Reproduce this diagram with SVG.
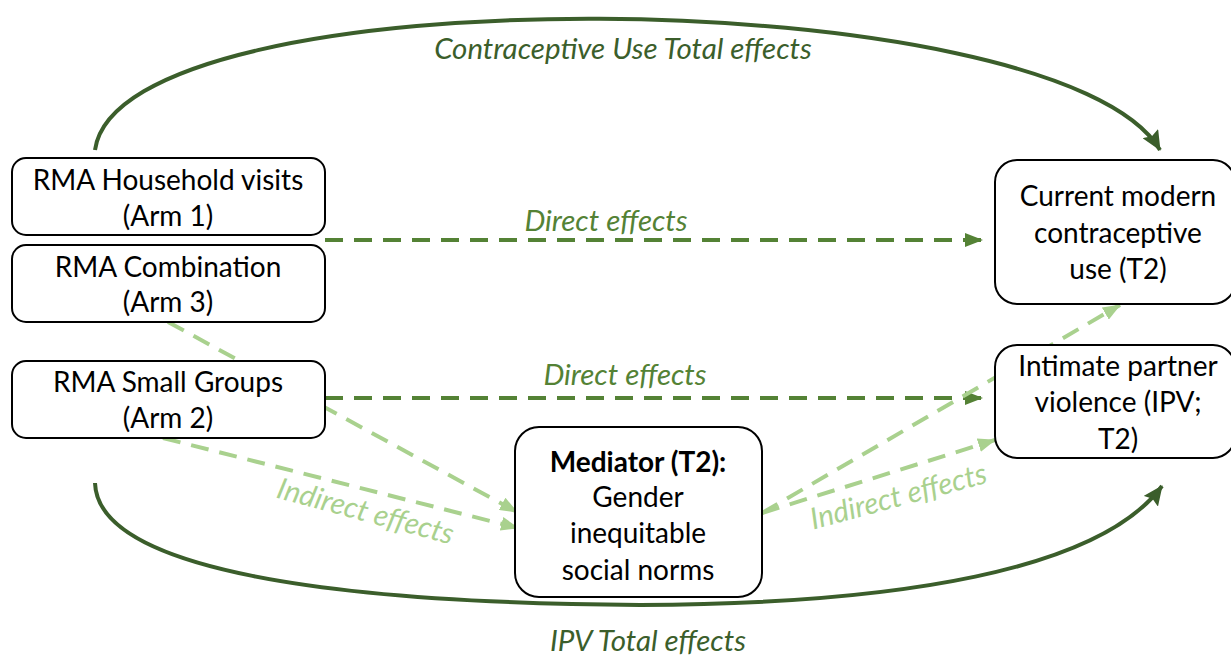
<svg xmlns="http://www.w3.org/2000/svg" width="1231" height="658" viewBox="0 0 1231 658">
<style>
.box{fill:#fff;stroke:#000;stroke-width:2}
.t{font-family:Lato,"Open Sans","Liberation Sans",sans-serif;font-size:28px;fill:#000;text-anchor:middle}
.b{font-weight:bold}
.lbl{font-family:Lato,"Open Sans","Liberation Sans",sans-serif;font-size:29.5px;font-style:italic;text-anchor:middle}
.total{fill:none;stroke:#3B5E2B;stroke-width:4}
.direct{fill:none;stroke:#548235;stroke-width:4;stroke-dasharray:18 11}
.ind{fill:none;stroke:#A9D18E;stroke-width:4;stroke-dasharray:18 11}
</style>
<defs>
<marker id="aTot" markerUnits="userSpaceOnUse" markerWidth="20" markerHeight="18" refX="19" refY="9" orient="auto"><path d="M0,0 L20,9 L0,18 L3,9 z" fill="#3B5E2B"/></marker>
<marker id="aDir" markerUnits="userSpaceOnUse" markerWidth="18" markerHeight="14" refX="17" refY="7" orient="auto"><path d="M0,0 L18,7 L0,14 z" fill="#548235"/></marker>
<marker id="aInd" markerUnits="userSpaceOnUse" markerWidth="18" markerHeight="14" refX="17" refY="7" orient="auto"><path d="M0,0 L18,7 L0,14 z" fill="#A9D18E"/></marker>
</defs>
<g id="connectors">
<path class="total" d="M95,150 C120,-30 1060,-20 1160,150" marker-end="url(#aTot)"/>
<path class="total" d="M95,483 C98,570 330,603 640,605 C900,604 1100,570 1162,486" marker-end="url(#aTot)"/>
<line class="direct" x1="325" y1="240" x2="982" y2="240" marker-end="url(#aDir)"/>
<line class="direct" x1="325" y1="398" x2="982" y2="398" marker-end="url(#aDir)"/>
<line class="ind" x1="168" y1="322" x2="517" y2="512" marker-end="url(#aInd)"/>
<line class="ind" x1="163" y1="438" x2="518" y2="528" marker-end="url(#aInd)"/>
<line class="ind" x1="762" y1="513" x2="1120" y2="305" marker-end="url(#aInd)"/>
<line class="ind" x1="762" y1="513" x2="995" y2="440" marker-end="url(#aInd)"/>
<text class="lbl" x="623" y="59" fill="#3B5E2B">Contraceptive Use Total effects</text>
<text class="lbl" x="606" y="231" fill="#548235">Direct effects</text>
<text class="lbl" x="625" y="385" fill="#548235">Direct effects</text>
<text class="lbl" fill="#A9D18E" transform="translate(363,521) rotate(15)">Indirect effects</text>
<text class="lbl" fill="#A9D18E" transform="translate(901,506) rotate(-15)">Indirect effects</text>
<text class="lbl" x="648" y="651" fill="#3B5E2B">IPV Total effects</text>
</g>
<g id="arm1"><rect class="box" x="12" y="158" width="313" height="77" rx="14"/><text class="t" x="168" y="190">RMA Household visits</text><text class="t" x="168" y="226">(Arm 1)</text></g>
<g id="arm3"><rect class="box" x="12" y="245" width="313" height="77" rx="14"/><text class="t" x="168" y="277">RMA Combination</text><text class="t" x="168" y="312">(Arm 3)</text></g>
<g id="arm2"><rect class="box" x="12" y="361" width="313" height="77" rx="14"/><text class="t" x="168" y="392">RMA Small Groups</text><text class="t" x="168" y="428">(Arm 2)</text></g>
<g id="contraceptive"><rect class="box" x="995" y="160" width="240" height="144" rx="22"/><text class="t" x="1118" y="206">Current modern</text><text class="t" x="1118" y="243">contraceptive</text><text class="t" x="1118" y="279">use (T2)</text></g>
<g id="ipv"><rect class="box" x="995" y="345" width="240" height="113" rx="22"/><text class="t" x="1118" y="376">Intimate partner</text><text class="t" x="1118" y="412">violence (IPV;</text><text class="t" x="1118" y="449">T2)</text></g>
<g id="mediator"><rect class="box" x="515" y="427" width="247" height="170" rx="24"/><text class="t b" x="638" y="472">Mediator (T2):</text><text class="t" x="638" y="507">Gender</text><text class="t" x="638" y="543">inequitable</text><text class="t" x="638" y="580">social norms</text></g>
</svg>
